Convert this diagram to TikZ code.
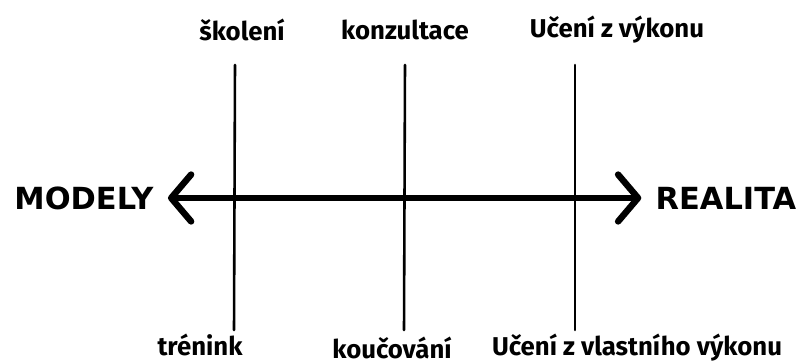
\documentclass[tikz,border=0pt]{standalone}
\usepackage{fontspec}
\setmainfont{Fira Sans}
\newfontfamily\bigfont{DejaVu Sans}
\usetikzlibrary{arrows.meta}

\begin{document}
\begin{tikzpicture}[x=0.3mm, y=-0.3mm,
        every node/.style={font=\fontsize{22}{24}\selectfont\bfseries},
        endlabel/.style={font=\bigfont\fontsize{26}{28}\selectfont\bfseries, outer xsep=9pt},
        divider/.style={line width=2.2pt, line cap=round},
        axis/.style={line width=5.5pt, line cap=round,
            {Straight Barb[length=17pt, width=40pt, line cap=round, line join=round]}-{Straight Barb[length=17pt, width=40pt, line cap=round, line join=round]}}]
      \useasboundingbox (0,0) rectangle (801,364);
      % ends of the scale
      \node[endlabel] (modely) at (84,198) {MODELY};
      \node[endlabel] (realita) at (726,198) {REALITA};
      \draw[axis] (modely.east) -- (realita.west);
      % dividers
      \coordinate (d1top) at (235,65);
      \coordinate (d1bot) at (234,330);
      \coordinate (d2top) at (405,65);
      \coordinate (d2bot) at (404,330);
      \coordinate (d3top) at (575,65);
      \coordinate (d3bot) at (575,330);
      \draw[divider] (d1top) -- (d1bot);
      \draw[divider] (d2top) -- (d2bot);
      \draw[divider] (d3top) -- (d3bot);
      % labels above
      \node (skoleni) at (242,30) {školení};
      \node (konzultace) at (405,30) {konzultace};
      \node (uceni) at (617,30) {Učení z výkonu};
      % labels below
      \node (trenink) at (200,345) {trénink};
      \node (koucovani) at (392,348) {koučování};
      \node (vlastni) at (637,348) {Učení z vlastního výkonu};
    \end{tikzpicture}
\end{document}
